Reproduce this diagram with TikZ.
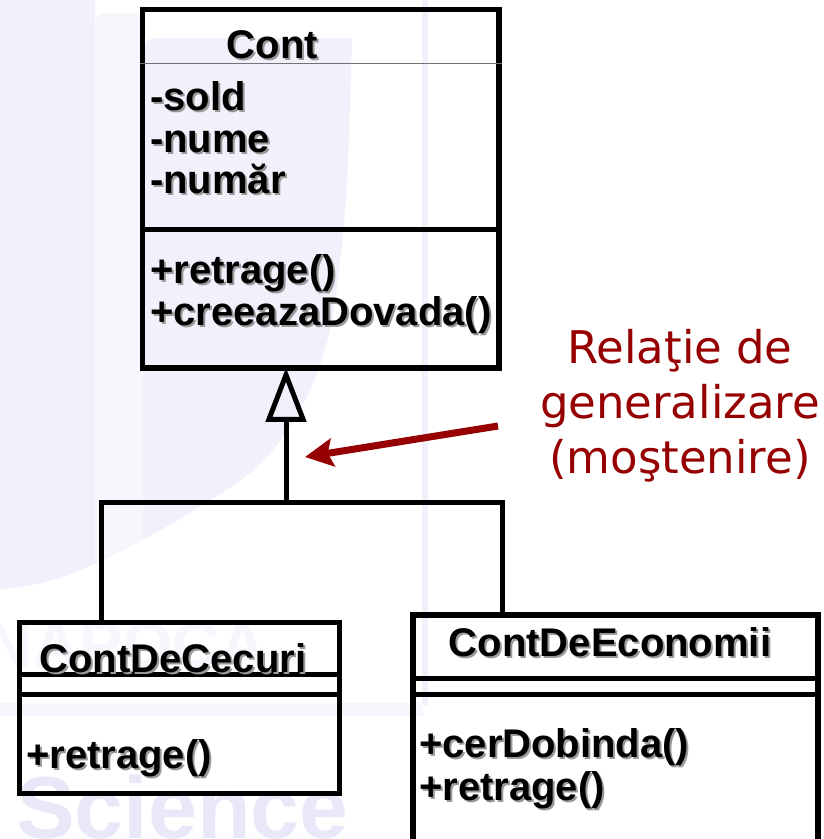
\documentclass[tikz,border=0pt]{standalone}
\usepackage{fontspec}
\setmainfont{Liberation Sans}
\newfontfamily\notefont{DejaVu Sans}
\usetikzlibrary{arrows.meta,calc}
\definecolor{notered}{RGB}{150,0,0}
\definecolor{wmA}{RGB}{241,241,252}
\definecolor{wmB}{RGB}{246,246,253}
\definecolor{wmC}{RGB}{232,232,248}
% bold text with a soft grey drop shadow
\newcommand\shd[1]{\makebox[0pt][l]{\hspace{2pt}\raisebox{-2pt}{\textcolor{black!40}{#1}}}#1}

\begin{document}
\begin{tikzpicture}[x=1pt,y=-1pt,
  classbox/.style={draw, line width=5.5pt, inner sep=0pt},
  mline/.style={anchor=base west, inner sep=0pt, font=\fontsize{40}{42}\selectfont\bfseries},
  ctitle/.style={anchor=base, inner sep=0pt, font=\fontsize{40}{42}\selectfont\bfseries},
  divider/.style={line width=5pt},
  conn/.style={line width=5pt},
  notetext/.style={anchor=base, inner sep=0pt, text=notered, font=\notefont\fontsize{45}{50}\selectfont},
  pointer/.style={draw=notered, line width=7pt, -{Stealth[length=28pt,width=28pt,inset=5pt]}},
]
\useasboundingbox (0,0) rectangle (823,839);
\clip (0,0) rectangle (823,839);

% faint background watermark
\begin{scope}
  \clip (0,-5) -- (352,-5) -- plot[smooth] coordinates {(352,40) (346,200) (330,330) (300,410) (250,473) (143,540) (60,578) (0,590)} -- cycle;
  \fill[wmA] (0,-5) rectangle (95,700);
  \fill[wmB, rounded corners=10pt] (95,13) rectangle (143,700);
  \fill[wmA, rounded corners=12pt] (143,38) rectangle (420,700);
\end{scope}
\fill[wmA] (422,0) rectangle (428,705);
\fill[wmB] (0,703) rectangle (423,716);
\node[anchor=base west, inner sep=0pt, text=wmB, font=\fontsize{65}{70}\selectfont\bfseries] (wmnapoca) at (-15,667) {NAPOCA};
\node[anchor=base west, inner sep=0pt, text=wmC, font=\fontsize{88}{90}\selectfont\bfseries] (wmscience) at (16,838) {Science};

% class Cont
\node[classbox, minimum width=356.5pt, minimum height=358.5pt] (cont) at (320.75,188.75) {};
\draw[line width=1pt, black!55] ([yshift=-56.5pt]cont.north west) -- ([yshift=-56.5pt]cont.north east);
\draw[divider] ([yshift=-222.5pt]cont.north west) -- ([yshift=-222.5pt]cont.north east);
\node[ctitle] (contname) at (272.5,58) {\shd{Cont}};
\node[mline] (sold) at (150,110) {\shd{-sold}};
\node[mline] (nume) at (150,152) {\shd{-nume}};
\node[mline] (numar) at (150,193) {\shd{-număr}};
\node[mline] (retrA) at (150,283) {\shd{+retrage()}};
\node[mline] (dovada) at (150,325) {\shd{+creeazaDovada()}};

% class ContDeCecuri
\node[classbox, line width=5pt, minimum width=320pt, minimum height=171pt] (cecuri) at (179,707.5) {};
\draw[divider] ([yshift=-55pt]cecuri.north west) -- ([yshift=-55pt]cecuri.north east);
\draw[divider] ([yshift=-75pt]cecuri.north west) -- ([yshift=-75pt]cecuri.north east);
\node[ctitle] (cecuriname) at (173,672) {\shd{ContDeCecuri}};
\node[mline] (retrB) at (26,768) {\shd{+retrage()}};

% class ContDeEconomii
\node[classbox, line width=6pt, minimum width=405pt, minimum height=230pt] (econ) at (615.5,730) {};
\draw[divider] ([yshift=-66pt]econ.north west) -- ([yshift=-66pt]econ.north east);
\draw[divider] ([yshift=-82pt]econ.north west) -- ([yshift=-82pt]econ.north east);
\node[ctitle] (econname) at (610,656) {\shd{ContDeEconomii}};
\node[mline] (dobinda) at (419,757) {\shd{+cerDobinda()}};
\node[mline] (retrC) at (419,800) {\shd{+retrage()}};

% generalization connectors
\coordinate (jl) at (101,502);
\coordinate (jm) at (286,502);
\coordinate (jr) at (502,502);
\draw[conn] (cecuri.north -| jl) -- (jl) -- (jr) -- (econ.north -| jr);
\draw[conn, -{Triangle[open, length=54pt, width=40pt]}, shorten >=-3pt] (jm) -- (cont.south -| jm);

% annotation
\node[notetext] (relatie) at (680,363) {Relaţie de};
\node[notetext] (gen) at (680,418) {generalizare};
\node[notetext] (most) at (680,473) {(moştenire)};
\coordinate (ptail) at (498,426);
\coordinate (phead) at (305,457);
\draw[pointer] (ptail) -- (phead);
\end{tikzpicture}
\end{document}
